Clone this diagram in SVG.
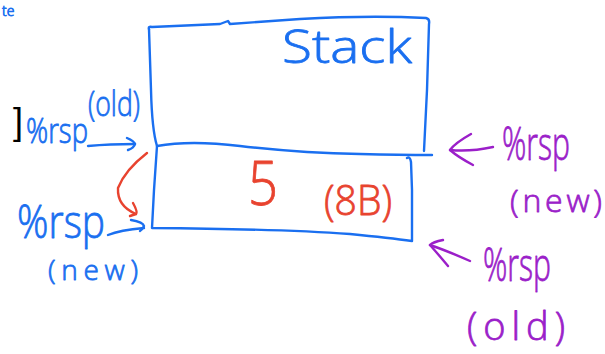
<svg xmlns="http://www.w3.org/2000/svg" width="605" height="354" viewBox="0 0 605 354">
  <style>
    .ink { fill: none; stroke-width: 2.4; stroke-linecap: round; stroke-linejoin: round; }
    .blue { stroke: #1a6ff0; }
    .red { stroke: #e8432f; }
    .purple { stroke: #9b1fc9; }
    .hand { font-family: "Open Sans", "Liberation Sans", sans-serif; font-weight: 300; stroke-width: 0.8; stroke-linejoin: round; }
    .tb { fill: #1a6ff0; stroke: #1a6ff0; }
    .tr { fill: #e8432f; stroke: #e8432f; }
    .tp { fill: #9b1fc9; stroke: #9b1fc9; }
  </style>
  <rect width="605" height="354" fill="#ffffff"/>

  <!-- fragment of an earlier word at the page edge -->
  <text class="hand tb" x="2" y="16" font-size="14">te</text>

  <!-- stack frame -->
  <g id="stack">
    <path class="ink blue" d="M149,29 Q148,26 152,27 L220,24 L228,21 L230,24 L300,19 Q370,15 426,18 Q430,19 429,24 L427,90 L424,151"/>
    <path class="ink blue" d="M149,29 L151,90 Q152,130 157,146 L154,190 L152,228 Q280,229 350,234 Q390,238 412,241 L412,190 L411,162 Q410,156 407,158"/>
    <path class="ink blue" d="M157,146 Q190,140 240,146 Q300,153 360,154 Q400,155 432,155"/>
    <text class="hand tb" x="282" y="63" font-size="46" textLength="130" lengthAdjust="spacingAndGlyphs">Stack</text>
  </g>

  <!-- pushed value -->
  <g id="value">
    <text class="hand tr" x="248" y="205" font-size="60" textLength="30" lengthAdjust="spacingAndGlyphs">5</text>
    <text class="hand tr" x="324" y="215" font-size="42" textLength="68" lengthAdjust="spacingAndGlyphs">(8B)</text>
  </g>

  <!-- left labels -->
  <g id="bracket">
    <text x="13" y="134" font-size="36" fill="#000000" font-family="Liberation Sans, sans-serif">]</text>
  </g>
  <g id="rsp-old-left">
    <text class="hand tb" x="88" y="116" font-size="34" textLength="52" lengthAdjust="spacingAndGlyphs">(old)</text>
    <text class="hand tb" x="26" y="143" font-size="34" textLength="62" lengthAdjust="spacingAndGlyphs">%rsp</text>
  </g>
  <g id="rsp-new-left">
    <text class="hand tb" x="17" y="238" font-size="46" textLength="88" lengthAdjust="spacingAndGlyphs">%rsp</text>
    <text class="hand tb" x="48" y="280" font-size="28" textLength="90" lengthAdjust="spacing">(new)</text>
  </g>

  <!-- right labels -->
  <g id="rsp-new-right">
    <text class="hand tp" x="502" y="160" font-size="46" textLength="68" lengthAdjust="spacingAndGlyphs">%rsp</text>
    <text class="hand tp" x="510" y="212" font-size="32" textLength="92" lengthAdjust="spacing">(new)</text>
  </g>
  <g id="rsp-old-right">
    <text class="hand tp" x="483" y="281" font-size="46" textLength="68" lengthAdjust="spacingAndGlyphs">%rsp</text>
    <text class="hand tp" x="467" y="340" font-size="38" textLength="98" lengthAdjust="spacing">(old)</text>
  </g>

  <!-- connectors -->
  <g id="connectors">
    <path class="ink blue" d="M88,146 Q110,144 135,144"/>
    <path class="ink blue" d="M127,138 Q134,141 135,144 Q134,148 128,150"/>
    <path class="ink blue" d="M108,235 Q120,230 144,228"/>
    <path class="ink blue" d="M131,220 Q143,222 144,226 Q142,230 140,231"/>
    <path class="ink red" d="M147,153 Q125,170 118,188 Q117,206 136,214"/>
    <path class="ink red" d="M133,203 Q138,212 136,214 Q133,215 130,216"/>
    <path class="ink purple" d="M493,147 Q470,152 450,150"/>
    <path class="ink purple" d="M471,134 Q455,143 450,150 Q458,157 473,165"/>
    <path class="ink purple" d="M470,261 Q445,250 430,245"/>
    <path class="ink purple" d="M443,240 Q433,242 430,245 Q438,254 448,266"/>
  </g>
</svg>
